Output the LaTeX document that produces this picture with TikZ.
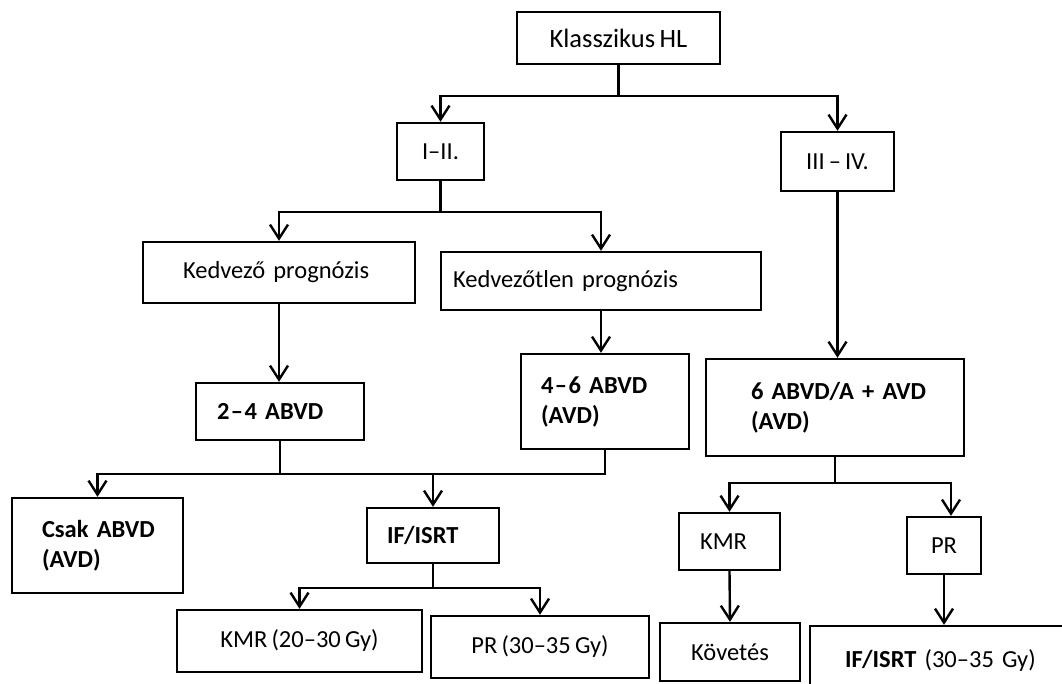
\documentclass[tikz,border=0pt]{standalone}
\usepackage{fontspec}
\setmainfont{Carlito}[WordSpace=0.75]
\usetikzlibrary{arrows.meta}
\begin{document}
\begin{tikzpicture}[x=1pt,y=-1pt,
  box/.style={draw, line width=2.4pt, inner sep=0pt, font=\fontsize{24.5pt}{30pt}\selectfont},
  bbox/.style={box, font=\fontsize{24.5pt}{30pt}\selectfont\bfseries},
  conn/.style={line width=2.4pt},
  arr/.style={conn, -{Straight Barb[length=14pt,width=18pt]}}]
\clip (0,0) rectangle (1062,683);
\fill[white] (0,0) rectangle (1062,683);
% nodes
\node[box, minimum width=203pt, minimum height=52pt, font=\fontsize{26.5pt}{30pt}\selectfont] (hl) at (618.5,38) {Klasszikus HL};
\node[box, minimum width=87pt, minimum height=57pt] (i12) at (440.5,151.5) {I–II.};
\node[box, minimum width=113pt, minimum height=59pt] (i34) at (837.5,161.5) {III\,–\,IV.};
\node[box, minimum width=272pt, minimum height=61pt, text width=192pt, align=left] (kedv) at (279,272.5) {\mbox{Kedvező prognózis}};
\node[box, minimum width=320pt, minimum height=58pt, text width=296pt, align=left] (kedvtl) at (601,281) {\mbox{Kedvezőtlen prognózis}};
\node[bbox, minimum width=168pt, minimum height=57pt, text width=126pt, align=left] (a24) at (280,411.5) {\mbox{2\kern1.5pt–\kern1.5pt4 ABVD}};
\node[bbox, minimum width=168pt, minimum height=95pt, text width=128pt, align=left] (a46) at (605,401.5) {\mbox{4\kern1.5pt–\kern1.5pt6 ABVD}\\(AVD)};
\node[bbox, minimum width=258pt, minimum height=97pt, text width=168pt, align=left] (a6) at (835,407.5) {\mbox{6 ABVD/A + AVD}\\(AVD)};
\node[bbox, minimum width=171pt, minimum height=95pt, text width=111pt, align=left] (csak) at (97.5,545.5) {\mbox{Csak ABVD}\\(AVD)};
\node[bbox, minimum width=132pt, minimum height=55pt, text width=92pt, align=left] (ifisrt) at (433,535.5) {IF/ISRT};
\node[box, minimum width=101pt, minimum height=57pt, text width=59pt, align=left] (kmr) at (729.5,541.5) {KMR};
\node[box, minimum width=74pt, minimum height=57pt] (pr) at (944,545.5) {PR};
\node[box, minimum width=245pt, minimum height=62pt] (kmr2030) at (299.5,641) {KMR (20–30 Gy)};
\node[box, minimum width=218pt, minimum height=62pt] (pr3035) at (540,647) {PR (30–35 Gy)};
\node[box, minimum width=140pt, minimum height=58pt] (kov) at (730,652) {Követés};
\node[box, minimum width=270pt, minimum height=70pt, text width=200pt, align=left] (ifisrt2) at (945,661) {\mbox{\textbf{IF/ISRT} (30–35 Gy)}};
% connectors
\draw[conn] (hl.south) -- (618.5,96) coordinate (j1);
\draw[arr] (j1) -| (i12.north);
\draw[arr] (j1) -| (i34.north);
\draw[conn] (i12.south) -- (440.5,212) coordinate (j2);
\draw[arr] (j2) -| (kedv.north);
\draw[arr] (j2) -| (kedvtl.north);
\draw[arr] (kedv.south) -- (kedv.south |- a24.north);
\draw[arr] (kedvtl.south) -- (kedvtl.south |- a46.north);
\draw[arr] (i34.south) -- (i34.south |- a6.north);
\draw[conn] (a24.south) -- (280,474) coordinate (j3);
\draw[conn] (a46.south) |- (j3);
\draw[arr] (j3) -| (csak.north);
\draw[arr] (j3) -| (ifisrt.north);
\draw[conn] (ifisrt.south) -- (433,588) coordinate (j4);
\draw[arr] (j4) -| (kmr2030.north);
\draw[arr] (j4) -| (pr3035.north);
\draw[conn] (a6.south) -- (835,483) coordinate (j5);
\draw[arr] (j5) -| (kmr.north);
\draw[arr] (j5) -| ([xshift=7pt]pr.north);
\draw[arr] (kmr.south) -- (kov.north);
\draw[arr] (pr.south) -- (pr.south |- ifisrt2.north);
\end{tikzpicture}
\end{document}
